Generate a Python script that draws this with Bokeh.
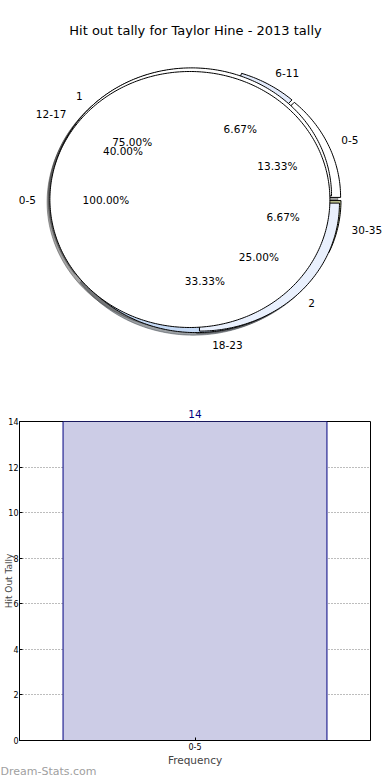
import numpy as np
from bokeh.plotting import figure
from bokeh.models import Range1d, FixedTicker, Title
from bokeh.layouts import column, row
from bokeh.embed import file_html
from bokeh.resources import INLINE
from bokeh.core.properties import value

# ---------------- data ----------------
chart_title = "Hit out tally for Taylor Hine - 2013 tally"

inner_labels = ["0-5"]
inner_values = [15]

middle_labels = ["1", "2"]
middle_values = [3, 1]

outer_labels = ["0-5", "6-11", "12-17", "18-23", "30-35"]
outer_values = [2, 1, 6, 5, 1]

bar_categories = ["0-5"]
bar_values = [14]
bar_yticks = [0, 2, 4, 6, 8, 10, 12, 14]
bar_xlabel = "Frequency"
bar_ylabel = "Hit Out Tally"
watermark = "Dream-Stats.com"

# ---------------- styles ----------------
FONT = "DejaVu Sans"
inner_colors = ["#ffffff"]
middle_colors = ["#ffffff", "#e9f0fd"]
outer_colors = ["#ffffff", "#e3ebfb", "#ffffff", "#c4d9f5", "#c3c995"]
EXPLODE = 0.04
SHADOW = 0.02

# pie figure: 1 data unit = 140 px horizontally, 128 px vertically
PW, PH = 390, 395
CXP, CYP, RX, RY = 195, 199, 140, 128
p1 = figure(width=PW, height=PH,
            x_range=Range1d(-CXP / RX, (PW - CXP) / RX),
            y_range=Range1d(-(PH - CYP) / RY, CYP / RY),
            x_axis_location=None, y_axis_location=None,
            toolbar_location=None, output_backend="svg",
            min_border=0, outline_line_color=None)
p1.grid.grid_line_color = None


def pie_geometry(values):
    v = np.asarray(values, dtype=float)
    frac = v / v.sum()
    bounds = np.concatenate([[0.0], np.cumsum(frac)]) * 2 * np.pi
    res = []
    for i in range(len(v)):
        t1, t2 = bounds[i], bounds[i + 1]
        mid = 0.5 * (t1 + t2)
        cx, cy = EXPLODE * np.cos(mid), EXPLODE * np.sin(mid)
        n = max(8, int(360 * frac[i]))
        th = np.linspace(t1, t2, n)
        if frac[i] >= 0.999999:
            xs = cx + np.cos(th)
            ys = cy + np.sin(th)
        else:
            xs = np.concatenate([[cx], cx + np.cos(th), [cx]])
            ys = np.concatenate([[cy], cy + np.sin(th), [cy]])
        res.append(dict(xs=xs, ys=ys, cx=cx, cy=cy, mid=mid, frac=frac[i]))
    return res


def shade(hexcol):
    h = hexcol.lstrip("#")
    r, g, b = (int(h[k:k + 2], 16) for k in (0, 2, 4))
    return "#%02x%02x%02x" % (int(r * 0.3), int(g * 0.3), int(b * 0.3))


pies = [
    (outer_labels, outer_values, outer_colors),
    (middle_labels, middle_values, middle_colors),
    (inner_labels, inner_values, inner_colors),
]
geoms = [pie_geometry(vals) for _, vals, _ in pies]

# shadows (below all wedges)
for (labels, vals, cols), geo in zip(pies, geoms):
    p1.patches(xs=[list(g["xs"] - SHADOW) for g in geo],
               ys=[list(g["ys"] - SHADOW) for g in geo],
               fill_color=[shade(c) for c in cols],
               line_color=[shade(c) for c in cols],
               fill_alpha=0.5, line_alpha=0.5, line_width=1)

# wedges
for (labels, vals, cols), geo in zip(pies, geoms):
    p1.patches(xs=[list(g["xs"]) for g in geo],
               ys=[list(g["ys"]) for g in geo],
               fill_color=cols, line_color="black", line_width=1)

# labels and percentages
for (labels, vals, cols), geo in zip(pies, geoms):
    for lab, g in zip(labels, geo):
        lx = g["cx"] + 1.1 * np.cos(g["mid"])
        ly = g["cy"] + 1.1 * np.sin(g["mid"])
        p1.text(x=[lx], y=[ly], text=[lab],
                text_align="left" if lx > 0 else "right",
                text_baseline="middle", text_font=value(FONT),
                text_font_size="10.5px", text_color="black")
        px = g["cx"] + 0.6 * np.cos(g["mid"])
        py = g["cy"] + 0.6 * np.sin(g["mid"])
        p1.text(x=[px], y=[py], text=["%.2f%%" % (100 * g["frac"])],
                text_align="center", text_baseline="middle",
                text_font=value(FONT), text_font_size="10.5px",
                text_color="black")

p1.text(x=[0], y=[(CYP - 30) / RY], text=[chart_title], text_align="center",
        text_baseline="middle", text_font=value(FONT), text_font_size="13px",
        text_color="black")

# ---------------- bar chart ----------------
FW, FH = 351, 319
XHALF = 0.532
ymax = max(bar_values)
x_idx = np.arange(len(bar_categories))
p2 = figure(frame_width=FW, frame_height=FH,
            x_range=Range1d(-XHALF, len(bar_categories) - 1 + XHALF),
            y_range=Range1d(0, ymax),
            min_border_left=19, min_border_right=19,
            min_border_top=26, min_border_bottom=40,
            toolbar_location=None, output_backend="svg",
            outline_line_color="black", outline_line_width=1)

p2.title = Title(text=str(bar_values[0]), align="center",
                 text_color="#000080", text_font=FONT,
                 text_font_size="10.5px", text_font_style="normal",
                 standoff=7)

p2.vbar(x=x_idx, top=bar_values, width=0.8, fill_color="#ccccE6",
        line_color="#000080", line_width=1)

p2.yaxis.ticker = FixedTicker(ticks=bar_yticks)
p2.xaxis.ticker = FixedTicker(ticks=[int(i) for i in x_idx])
p2.xaxis.major_label_overrides = {int(i): c for i, c in zip(x_idx, bar_categories)}
for ax in (p2.xaxis, p2.yaxis):
    ax.major_label_text_font = FONT
    ax.major_label_text_font_size = "8px"
    ax.major_label_text_color = "black"
    ax.major_tick_in = 3
    ax.major_tick_out = 0
    ax.minor_tick_line_color = None
    ax.axis_line_color = "black"
    ax.major_label_standoff = 2
p2.yaxis.major_label_standoff = 1
p2.xaxis.axis_label = bar_xlabel
p2.xaxis.axis_label_text_font = FONT
p2.xaxis.axis_label_text_font_size = "10.5px"
p2.xaxis.axis_label_text_font_style = "normal"
p2.xaxis.axis_label_standoff = 1
p2.yaxis.axis_label = bar_ylabel
p2.yaxis.axis_label_text_font = FONT
p2.yaxis.axis_label_text_font_size = "9px"
p2.yaxis.axis_label_text_font_style = "normal"
p2.yaxis.axis_label_standoff = -9

p2.grid.grid_line_color = "#7a7a7a"
p2.grid.grid_line_dash = "1 2"
p2.grid.grid_line_width = 1

p2.add_layout(Title(text=watermark, align="left", offset=-19,
                    text_color="#a0a0a0", text_font=FONT,
                    text_font_size="11px", text_font_style="normal",
                    standoff=-11), "below")

layout = column(p1, row(p2), spacing=0)
open("out.html", "w").write(file_html(layout, INLINE))
